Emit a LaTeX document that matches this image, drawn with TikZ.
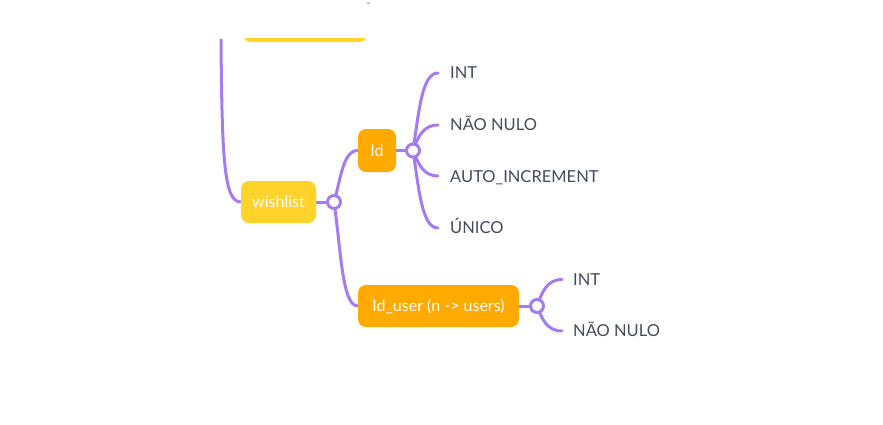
\documentclass[tikz,border=0pt]{standalone}
\usepackage{fontspec}
\setmainfont{Lato}
\definecolor{purp}{HTML}{A57BF0}
\definecolor{ylw}{HTML}{FFD32A}
\definecolor{org}{HTML}{FFAA00}
\definecolor{txt}{HTML}{434B5C}
\pgfdeclarelayer{bg}
\pgfsetlayers{bg,main}
\tikzset{
  ybox/.style={draw=none, fill=ylw, rounded corners=8pt, text=white, font=\fontsize{16}{18}\selectfont, inner sep=0pt},
  obox/.style={draw=none, fill=org, rounded corners=8pt, text=white, font=\fontsize{16}{18}\selectfont, inner sep=0pt},
  knob/.style={circle, draw=purp, fill=white, line width=3pt, minimum size=13pt, inner sep=0pt},
  leaf/.style={anchor=west, text=txt, font=\fontsize{16.5}{18}\selectfont, inner sep=0pt, text height=11.8pt, text depth=0pt},
  branch/.style={draw=purp, line width=3pt, line cap=round}
}
\begin{document}
\begin{tikzpicture}[x=1pt,y=-1pt]
\useasboundingbox (0,0) rectangle (883,424);
% top cut box
\begin{scope}
\clip (230,38.5) rectangle (380,50);
\node[ybox, minimum width=124pt, minimum height=42pt] (topbox) at (305,21) {};
\end{scope}
\fill[gray!45] (367.3,1.8) rectangle (369.5,4.3);
% main nodes
\node[ybox, minimum width=75pt, minimum height=42pt] (wish) at (278.5,202) {wishlist};
\node[obox, minimum width=38pt, minimum height=43pt] (id) at (377,150.5) {Id};
\node[obox, minimum width=161pt, minimum height=42pt] (iduser) at (438.5,306) {Id\_user (n -> users)};
\node[knob] (c1) at (334,202) {};
\node[knob] (c2) at (413,150.5) {};
\node[knob] (c3) at (537,306) {};
% leaves
\node[leaf] (l1) at (450,72.5) {INT};
\node[leaf] (l2) at (450,124.5) {NÃO NULO};
\node[leaf] (l3) at (450,176.5) {AUTO\_INCREMENT};
\node[leaf] (l4) at (450,228) {ÚNICO};
\node[leaf] (l5) at (573,279.5) {INT};
\node[leaf] (l6) at (573,331) {NÃO NULO};
\coordinate (e1) at (438,73);
\coordinate (e2) at (438,125);
\coordinate (e3) at (438,176);
\coordinate (e4) at (438,228);
\coordinate (e5) at (562,279.5);
\coordinate (e6) at (562,331);
\coordinate (ptop) at (221,39);
\begin{pgfonlayer}{bg}
\draw[branch, line cap=butt] (ptop) .. controls (222,160) and (224,202) .. (wish.west);
\draw[branch] (wish.east) -- (c1.center);
\draw[branch] (c1.center) .. controls (341,178) and (343,150.5) .. (id.west);
\draw[branch] (c1.center) .. controls (341,250) and (342,306) .. (iduser.west);
\draw[branch] (id.east) -- (c2.center);
\draw[branch] (c2.center) .. controls (419,111) and (422,73) .. (e1);
\draw[branch] (c2.center) .. controls (418,137) and (423,125) .. (e2);
\draw[branch] (c2.center) .. controls (418,163) and (423,176) .. (e3);
\draw[branch] (c2.center) .. controls (419,190) and (422,228) .. (e4);
\draw[branch] (iduser.east) -- (c3.center);
\draw[branch] (c3.center) .. controls (542,292) and (547,279.5) .. (e5);
\draw[branch] (c3.center) .. controls (542,319) and (547,331) .. (e6);
\end{pgfonlayer}
\end{tikzpicture}
\end{document}
